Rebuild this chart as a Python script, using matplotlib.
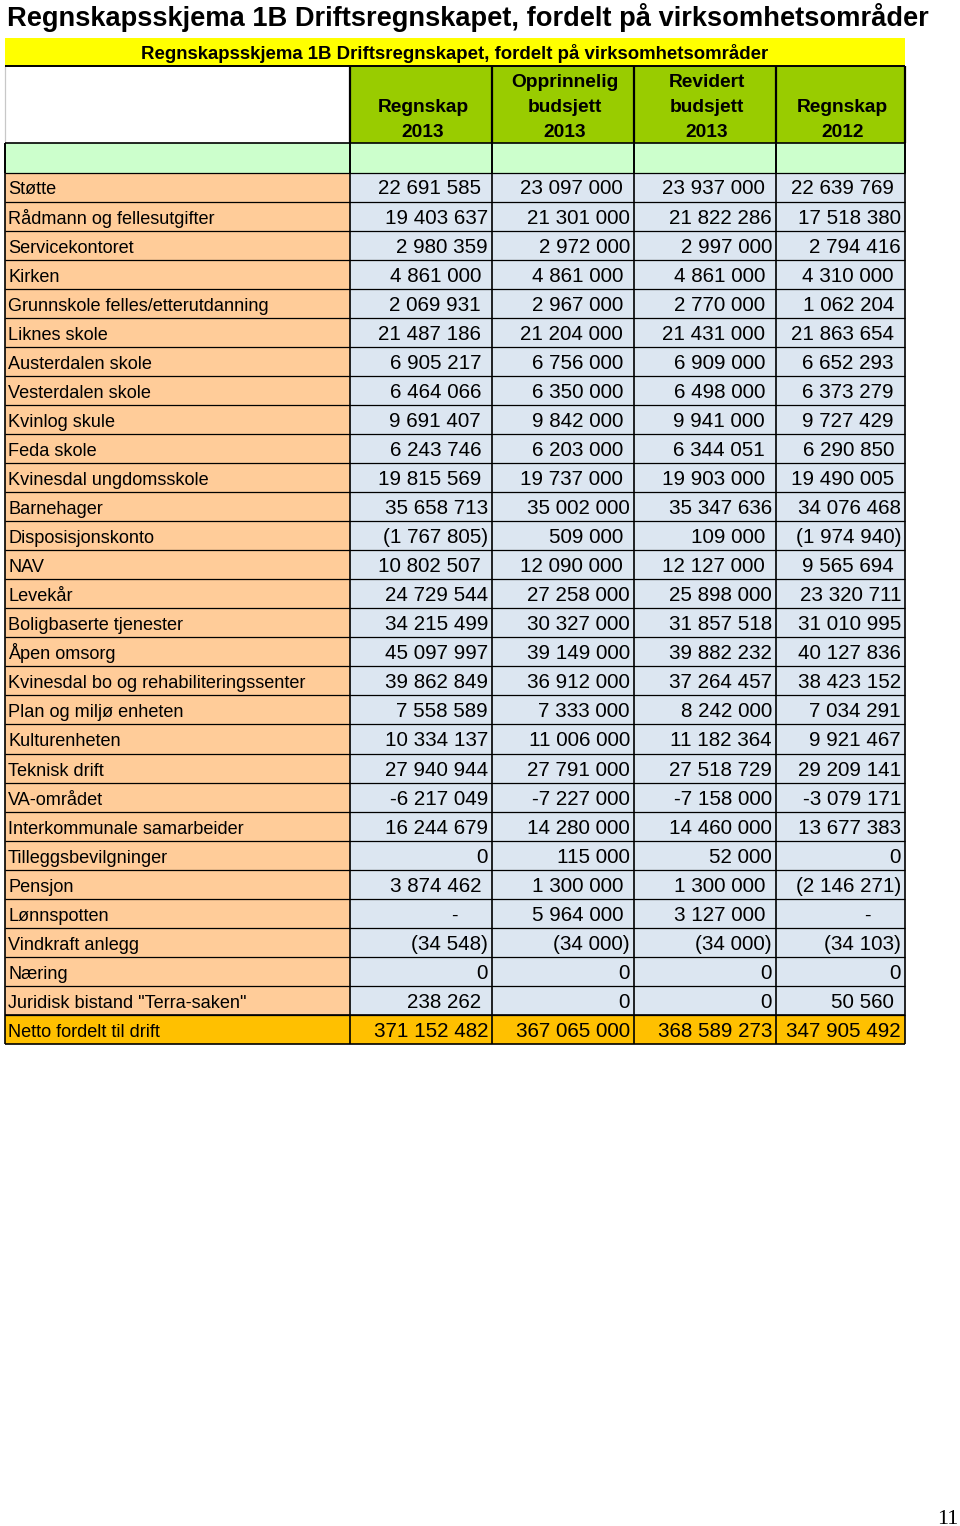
import matplotlib
matplotlib.use("Agg")
import matplotlib.pyplot as plt
from matplotlib.patches import Rectangle

plt.rcParams['font.family'] = ['Liberation Sans', 'DejaVu Sans']

page_title = "Regnskapsskjema 1B Driftsregnskapet, fordelt på virksomhetsområder"
table_title = "Regnskapsskjema 1B Driftsregnskapet, fordelt på virksomhetsområder"
col_headers = [["Regnskap", "2013"],
               ["Opprinnelig", "budsjett", "2013"],
               ["Revidert", "budsjett", "2013"],
               ["Regnskap", "2012"]]
page_number = "11"

labels = ["Støtte", "Rådmann og fellesutgifter", "Servicekontoret", "Kirken",
          "Grunnskole felles/etterutdanning", "Liknes skole", "Austerdalen skole",
          "Vesterdalen skole", "Kvinlog skule", "Feda skole", "Kvinesdal ungdomsskole",
          "Barnehager", "Disposisjonskonto", "NAV", "Levekår", "Boligbaserte tjenester",
          "Åpen omsorg", "Kvinesdal bo og rehabiliteringssenter", "Plan og miljø enheten",
          "Kulturenheten", "Teknisk drift", "VA-området", "Interkommunale samarbeider",
          "Tilleggsbevilgninger", "Pensjon", "Lønnspotten", "Vindkraft anlegg", "Næring",
          "Juridisk bistand \"Terra-saken\"", "Netto fordelt til drift"]

regnskap_2013 = [22691585, 19403637, 2980359, 4861000, 2069931, 21487186, 6905217,
                 6464066, 9691407, 6243746, 19815569, 35658713, -1767805, 10802507,
                 24729544, 34215499, 45097997, 39862849, 7558589, 10334137, 27940944,
                 -6217049, 16244679, 0, 3874462, 0, -34548, 0, 238262, 371152482]
opprinnelig_2013 = [23097000, 21301000, 2972000, 4861000, 2967000, 21204000, 6756000,
                    6350000, 9842000, 6203000, 19737000, 35002000, 509000, 12090000,
                    27258000, 30327000, 39149000, 36912000, 7333000, 11006000, 27791000,
                    -7227000, 14280000, 115000, 1300000, 5964000, -34000, 0, 0, 367065000]
revidert_2013 = [23937000, 21822286, 2997000, 4861000, 2770000, 21431000, 6909000,
                 6498000, 9941000, 6344051, 19903000, 35347636, 109000, 12127000,
                 25898000, 31857518, 39882232, 37264457, 8242000, 11182364, 27518729,
                 -7158000, 14460000, 52000, 1300000, 3127000, -34000, 0, 0, 368589273]
regnskap_2012 = [22639769, 17518380, 2794416, 4310000, 1062204, 21863654, 6652293,
                 6373279, 9727429, 6290850, 19490005, 34076468, -1974940, 9565694,
                 23320711, 31010995, 40127836, 38423152, 7034291, 9921467, 29209141,
                 -3079171, 13677383, 0, -2146271, 0, -34103, 0, 50560, 347905492]

# number format style of each row (a = accounting, p = plain, pz = padded plain)
row_formats = ["a", "p", "p", "a", "a", "a", "a", "a", "a", "a", "a", "p", "a", "a",
               "p", "p", "p", "p", "p", "p", "p", "p", "p", "p", "a", "a", "a", "p",
               "pz", "p"]

series = [regnskap_2013, opprinnelig_2013, revidert_2013, regnskap_2012]

# ---- layout (pixels) ----
W, H = 960, 1526
fig = plt.figure(figsize=(W / 100, H / 100), dpi=100)
ax = fig.add_axes([0, 0, 1, 1])
ax.set_xlim(0, W)
ax.set_ylim(H, 0)
ax.axis("off")

col_x = [5, 350, 492, 634, 776, 905]
y_yellow = 38
y_head = 66
y_lg = 143
y_data = 172.5
row_h = (1044 - y_data) / len(labels)

YELLOW = "#FFFF00"
GREEN = "#99CC00"
LGREEN = "#CCFFCC"
PEACH = "#FFCC99"
BLUE = "#DCE6F1"
ORANGE = "#FFC000"
LW = 0.9

def rect(x0, y0, x1, y1, color):
    ax.add_patch(Rectangle((x0, y0), x1 - x0, y1 - y0, facecolor=color,
                           edgecolor="none", zorder=1))

def hline(y, x0, x1, color="black", lw=LW):
    ax.plot([x0, x1], [y, y], color=color, lw=lw, zorder=3, solid_capstyle="butt")

def vline(x, y0, y1, color="black", lw=LW):
    ax.plot([x, x], [y0, y1], color=color, lw=lw, zorder=3, solid_capstyle="butt")

# page title
ax.text(7, 26, page_title, fontsize=19.6, fontweight="bold", ha="left",
        va="baseline", color="black")

# yellow title row
rect(col_x[0], y_yellow, col_x[-1], y_head, YELLOW)
ax.text(455, 59, table_title, fontsize=13.4,
        fontweight="bold", ha="center", va="baseline", zorder=4)

# header row
rect(col_x[0], y_head, col_x[1], y_lg, "white")
rect(col_x[1], y_head, col_x[-1], y_lg, GREEN)
vline(col_x[0], y_head, y_lg, color="#c8c8c8")
for j, hdr in enumerate(col_headers):
    cx = (col_x[j + 1] + col_x[j + 2]) / 2 + 2
    n = len(hdr)
    base_last = 137
    for k, line in enumerate(hdr):
        yb = base_last - (n - 1 - k) * 25
        ax.text(cx, yb, line, fontsize=13.8, fontweight="bold", ha="center",
                va="baseline", zorder=4)
for x in col_x[1:]:
    vline(x, y_head, y_lg, lw=1.6)
hline(y_head, col_x[0], col_x[-1], lw=1.4)

# light green row
rect(col_x[0], y_lg, col_x[-1], y_data, LGREEN)
for x in col_x:
    vline(x, y_lg, y_data, lw=1.4)
hline(y_lg, col_x[0], col_x[-1], lw=1.2)

def fmt(v, style):
    s = f"{abs(v):,}".replace(",", " ")
    if style == "a":
        if v < 0:
            return "(" + s + ")", 4
        if v == 0:
            return "-", 36
        return s, 11
    if style == "pz":
        if v == 0:
            return "0", 4
        return s, 11
    if v < 0:
        return "-" + s, 4
    return s, 4

# data rows
n_rows = len(labels)
for i, lab in enumerate(labels):
    top = y_data + i * row_h
    bot = top + row_h
    is_total = (i == n_rows - 1)
    rect(col_x[0], top, col_x[1], bot, ORANGE if is_total else PEACH)
    rect(col_x[1], top, col_x[-1], bot, ORANGE if is_total else BLUE)
    base = top + 22
    ax.text(8, base, lab, fontsize=13.1, ha="left", va="baseline", zorder=4)
    for j, ser in enumerate(series):
        txt, pad = fmt(ser[i], row_formats[i])
        if txt == "-":
            ax.text(col_x[j + 2] - 38, base, txt, fontsize=14.0, ha="center",
                    va="baseline", zorder=4)
        else:
            ax.text(col_x[j + 2] - pad, base, txt, fontsize=14.9, ha="right",
                    va="baseline", zorder=4)
    hline(top, col_x[0], col_x[-1])
hline(y_data + n_rows * row_h, col_x[0], col_x[-1], lw=1.2)
hline(y_data + (n_rows - 1) * row_h, col_x[0], col_x[-1], lw=1.2)
for x in col_x:
    vline(x, y_data, y_data + n_rows * row_h, lw=1.2)

# page number
ax.text(958, 1524, page_number, fontsize=16, family=["Liberation Serif", "DejaVu Serif"],
        ha="right", va="baseline")

fig.savefig("out.png", dpi=100)
